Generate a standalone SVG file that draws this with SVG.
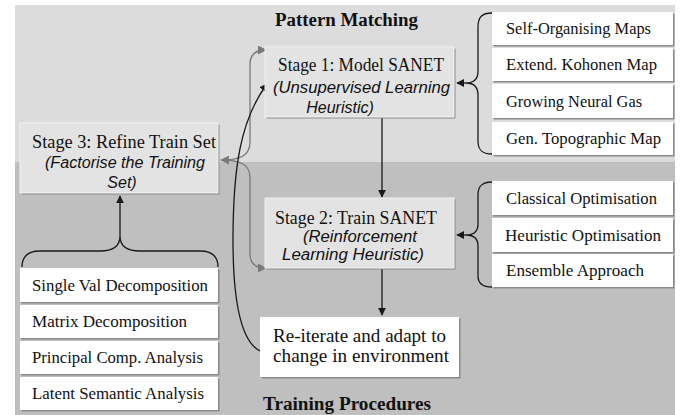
<svg xmlns="http://www.w3.org/2000/svg" width="688" height="415" viewBox="0 0 688 415">
<defs>
<style>
.serif{font-family:"Liberation Serif","Times New Roman",serif;fill:#111111}
.it{font-family:"Liberation Sans",Arial,sans-serif;font-style:italic;fill:#111111;font-size:16px}
.st{font-size:19px}
.li{font-size:17.5px}
.ti{font-size:18.5px;font-weight:bold}
.shadow{fill:#8a8a8a}
.stage{fill:#e3e3e3;stroke:#f2f2f2;stroke-width:1}
.wbox{fill:#ffffff}
.blk{fill:none;stroke:#1a1a1a;stroke-width:1.3}
.gry{fill:none;stroke:#7a7a7a;stroke-width:1.3}
</style>
<marker id="ab" viewBox="0 0 10 10" refX="9" refY="5" markerWidth="8" markerHeight="8" markerUnits="userSpaceOnUse" orient="auto">
<path d="M0,0 L10,5 L0,10 z" fill="#1a1a1a"/>
</marker>
<marker id="ag" viewBox="0 0 10 10" refX="9" refY="5" markerWidth="9" markerHeight="9" markerUnits="userSpaceOnUse" orient="auto">
<path d="M0,0 L10,5 L0,10 z" fill="#7a7a7a"/>
</marker>
<marker id="agStart" viewBox="0 0 10 10" refX="1" refY="5" markerWidth="9" markerHeight="9" markerUnits="userSpaceOnUse" orient="auto">
<path d="M10,0 L0,5 L10,10 z" fill="#7a7a7a"/>
</marker>
</defs>

<!-- backgrounds -->
<rect x="15" y="5" width="660" height="157" fill="#dcdcdc"/>
<rect x="15" y="162" width="660" height="253" fill="#bfbfbf"/>

<g id="title-top"><text class="serif ti" x="346.5" y="26" text-anchor="middle" textLength="143" lengthAdjust="spacingAndGlyphs">Pattern Matching</text></g>
<g id="title-bottom"><text class="serif ti" x="347" y="410" text-anchor="middle" textLength="168" lengthAdjust="spacingAndGlyphs">Training Procedures</text></g>

<!-- connectors -->
<g id="connectors">
<path class="gry" d="M221,160 C240,160 250,156 250,142 L250,64 C250,55 255,50 266,50" marker-start="url(#agStart)" marker-end="url(#ag)"/>
<path class="gry" d="M221,160 C240,160 250,164 250,178 L250,254 C250,263 255,268 266,268" marker-end="url(#ag)"/>
<path class="blk" d="M260,351 C240,341 233,300 233,240 C233,170 240,120 267,84" marker-end="url(#ab)"/>
<path class="blk" d="M382,118 L382,197" marker-end="url(#ab)"/>
<path class="blk" d="M382,269 L382,315" marker-end="url(#ab)"/>
<!-- braces -->
<path class="blk" d="M492,13 C482,13 478,17 478,27 L478,71 C478,79 474,83 466,83 C474,83 478,87 478,95 L478,141 C478,150 482,154 492,154"/>
<path class="blk" d="M466,83 L457,83" marker-end="url(#ab)"/>
<path class="blk" d="M492,182 C482,182 478,186 478,195 L478,224 C478,231 474,235 466,235 C474,235 478,239 478,246 L478,276 C478,283 482,287 492,287"/>
<path class="blk" d="M466,235 L457,235" marker-end="url(#ab)"/>
<path class="blk" d="M22,267 C22,256 28,251 40,251 L100,251 C113,251 120,246 120,236 C120,246 127,251 140,251 L200,251 C212,251 218,256 218,267"/>
<path class="blk" d="M120,236 L120,196" marker-end="url(#ab)"/>
</g>

<!-- stage nodes -->
<g id="stage1">
<rect class="shadow" x="266.5" y="48.5" width="189" height="70"/>
<rect class="stage" x="265" y="47" width="189" height="70"/>
<text class="serif st" x="361" y="71" text-anchor="middle" textLength="166" lengthAdjust="spacingAndGlyphs">Stage 1: Model SANET</text>
<text class="it" x="361.5" y="93" text-anchor="middle" textLength="177" lengthAdjust="spacingAndGlyphs">(Unsupervised Learning</text>
<text class="it" x="340" y="113" text-anchor="middle">Heuristic)</text>
</g>

<g id="stage3">
<rect class="shadow" x="21.5" y="124.5" width="198" height="70"/>
<rect class="stage" x="20" y="123" width="198" height="70"/>
<text class="serif st" x="124" y="148" text-anchor="middle" textLength="184" lengthAdjust="spacingAndGlyphs">Stage 3: Refine Train Set</text>
<text class="it" x="125" y="168" text-anchor="middle" textLength="160" lengthAdjust="spacingAndGlyphs">(Factorise the Training</text>
<text class="it" x="122" y="188" text-anchor="middle">Set)</text>
</g>

<g id="stage2">
<rect class="shadow" x="266.5" y="199.5" width="189" height="70"/>
<rect class="stage" x="265" y="198" width="189" height="70"/>
<text class="serif st" x="356" y="224" text-anchor="middle" textLength="162" lengthAdjust="spacingAndGlyphs">Stage 2: Train SANET</text>
<text class="it" x="360" y="242" text-anchor="middle" textLength="114" lengthAdjust="spacingAndGlyphs">(Reinforcement</text>
<text class="it" x="353" y="260" text-anchor="middle" textLength="142" lengthAdjust="spacingAndGlyphs">Learning Heuristic)</text>
</g>

<g id="reiterate">
<rect class="shadow" x="261.5" y="318.5" width="199" height="60"/>
<rect class="wbox" x="260" y="317" width="199" height="60"/>
<text class="serif st" x="273" y="342" textLength="173" lengthAdjust="spacingAndGlyphs">Re-iterate and adapt to</text>
<text class="serif st" x="273" y="362" textLength="176" lengthAdjust="spacingAndGlyphs">change in environment</text>
</g>

<!-- right top list -->
<g id="som">
<rect class="shadow" x="493.5" y="13.5" width="181" height="33"/>
<rect class="wbox" x="492" y="12" width="181" height="33"/>
<text class="serif li" x="506" y="34" textLength="145" lengthAdjust="spacingAndGlyphs">Self-Organising Maps</text>
</g>
<g id="ekm">
<rect class="shadow" x="493.5" y="49.5" width="181" height="33"/>
<rect class="wbox" x="492" y="48" width="181" height="33"/>
<text class="serif li" x="506" y="70" textLength="151" lengthAdjust="spacingAndGlyphs">Extend. Kohonen Map</text>
</g>
<g id="gng">
<rect class="shadow" x="493.5" y="85.5" width="181" height="34"/>
<rect class="wbox" x="492" y="84" width="181" height="34"/>
<text class="serif li" x="506" y="106.5" textLength="136" lengthAdjust="spacingAndGlyphs">Growing Neural Gas</text>
</g>
<g id="gtm">
<rect class="shadow" x="493.5" y="123.5" width="181" height="33"/>
<rect class="wbox" x="492" y="122" width="181" height="33"/>
<text class="serif li" x="506" y="144" textLength="155" lengthAdjust="spacingAndGlyphs">Gen. Topographic Map</text>
</g>

<!-- right bottom list -->
<g id="classical">
<rect class="shadow" x="493.5" y="182.5" width="181" height="34"/>
<rect class="wbox" x="492" y="181" width="181" height="34"/>
<text class="serif li" x="506" y="203.5" textLength="151" lengthAdjust="spacingAndGlyphs">Classical Optimisation</text>
</g>
<g id="heuristic">
<rect class="shadow" x="493.5" y="219.5" width="181" height="34"/>
<rect class="wbox" x="492" y="218" width="181" height="34"/>
<text class="serif li" x="505" y="240.5" textLength="156" lengthAdjust="spacingAndGlyphs">Heuristic Optimisation</text>
</g>
<g id="ensemble">
<rect class="shadow" x="493.5" y="255.5" width="181" height="33"/>
<rect class="wbox" x="492" y="254" width="181" height="33"/>
<text class="serif li" x="506" y="276" textLength="138" lengthAdjust="spacingAndGlyphs">Ensemble Approach</text>
</g>

<!-- left list -->
<g id="svd">
<rect class="shadow" x="21.5" y="269.5" width="198" height="34"/>
<rect class="wbox" x="20" y="268" width="198" height="34"/>
<text class="serif li" x="32" y="290.5" textLength="176" lengthAdjust="spacingAndGlyphs">Single Val Decomposition</text>
</g>
<g id="matrix">
<rect class="shadow" x="21.5" y="306.5" width="198" height="33"/>
<rect class="wbox" x="20" y="305" width="198" height="33"/>
<text class="serif li" x="32" y="327" textLength="155" lengthAdjust="spacingAndGlyphs">Matrix Decomposition</text>
</g>
<g id="pca">
<rect class="shadow" x="21.5" y="342.5" width="198" height="33"/>
<rect class="wbox" x="20" y="341" width="198" height="33"/>
<text class="serif li" x="32" y="363" textLength="171" lengthAdjust="spacingAndGlyphs">Principal Comp. Analysis</text>
</g>
<g id="lsa">
<rect class="shadow" x="21.5" y="378.5" width="198" height="33"/>
<rect class="wbox" x="20" y="377" width="198" height="33"/>
<text class="serif li" x="32" y="399" textLength="172" lengthAdjust="spacingAndGlyphs">Latent Semantic Analysis</text>
</g>
</svg>
